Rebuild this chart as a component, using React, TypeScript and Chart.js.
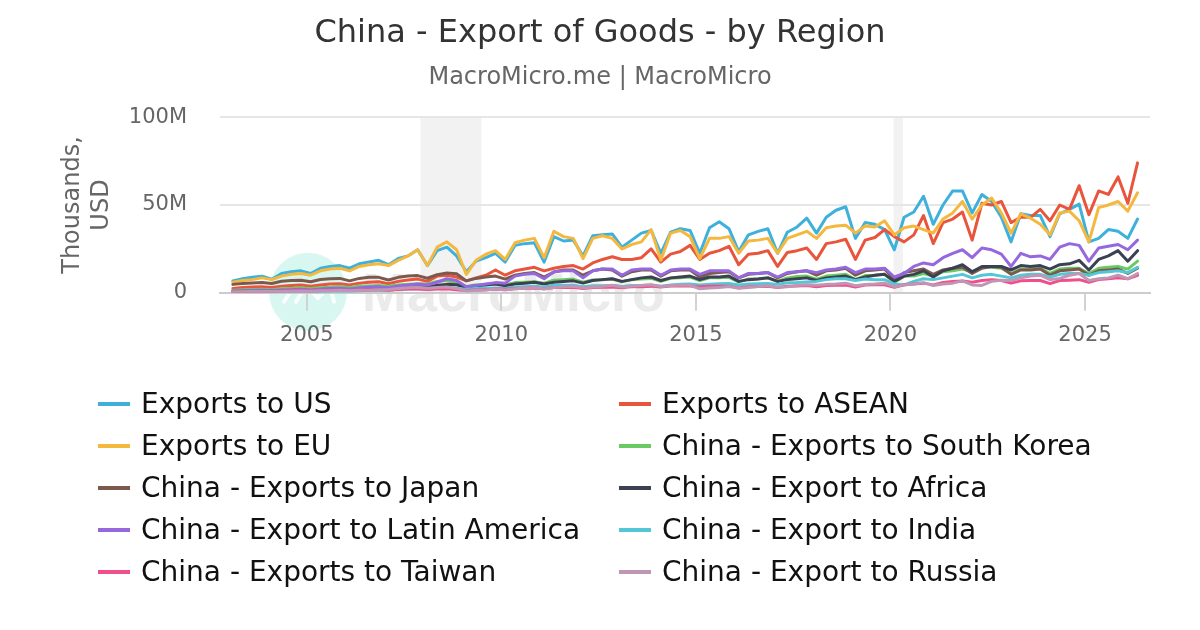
import { useEffect, useRef } from 'react';
import { Chart, registerables } from 'chart.js';

Chart.register(...registerables);

const TITLE = 'China - Export of Goods - by Region';
const SUBTITLE = 'MacroMicro.me | MacroMicro';
const Y_TITLE = ['Thousands,', 'USD'];
const X_TICKS = [2005, 2010, 2015, 2020, 2025];
const Y_TICKS = [0, 50, 100];
const RECESSIONS = [
  [2007.92, 2009.49],
  [2020.08, 2020.32],
];
const FIRST_YEAR = 2003;
const QUARTER_OFFSETS = [0.1, 0.35, 0.6, 0.85];

const SERIES_NAMES = [
  'Exports to US',
  'Exports to ASEAN',
  'Exports to EU',
  'China - Exports to South Korea',
  'China - Exports to Japan',
  'China - Export to Africa',
  'China - Export to Latin America',
  'China - Export to India',
  'China - Exports to Taiwan',
  'China - Export to Russia',
];

const SERIES_COLORS = [
  '#3eb0dc',
  '#e9553c',
  '#f5b83f',
  '#6bc963',
  '#7b5a4d',
  '#3c4053',
  '#9568de',
  '#53c7d5',
  '#f04f8b',
  '#c196b4',
];

// quarterly values (Feb, May, Aug, Nov), in millions of thousand USD
const US = [
  6.8, 8, 8.8, 9.5, // 2003
  7.7, 11, 12, 12.5, // 2004
  11, 14, 15, 15.5, // 2005
  14, 16.5, 17.5, 18.5, // 2006
  16, 19.5, 21, 24.5, // 2007
  15.5, 24, 26, 21, // 2008
  12, 18, 20, 22.5, // 2009
  17.5, 27, 28, 28.5, // 2010
  17.5, 32, 29.5, 30, // 2011
  21, 32.5, 33, 33.5, // 2012
  26, 30, 34, 35.5, // 2013
  22.5, 34.5, 36.5, 35.5, // 2014
  22.5, 37, 40.5, 36.5, // 2015
  23.5, 33, 35, 36.5, // 2016
  22.5, 34.5, 37.5, 42.5, // 2017
  34, 43, 47, 49, // 2018
  31, 40, 39, 36, // 2019
  24.5, 43, 46, 55, // 2020
  39, 50, 58, 58, // 2021
  45.5, 56, 52, 43, // 2022
  29, 45, 44, 44, // 2023
  32, 45, 47.5, 50.5, // 2024
  29, 31, 36, 35, // 2025
  31, 42, // 2026
];

const ASEAN = [
  2.5, 3, 3.3, 3.5, // 2003
  3, 3.8, 4.2, 4.5, // 2004
  3.8, 4.5, 5, 5.2, // 2005
  4.5, 5.5, 6, 6.3, // 2006
  5.2, 6.5, 7.3, 7.8, // 2007
  6.5, 9.5, 10, 9, // 2008
  6.8, 8.5, 10, 13, // 2009
  10, 12.5, 13.5, 14.5, // 2010
  12.5, 14, 15, 15.5, // 2011
  13.5, 17, 19, 20.5, // 2012
  19, 19, 20, 25, // 2013
  17.5, 22, 23.5, 27, // 2014
  19, 22.5, 24, 26.5, // 2015
  16, 22, 22.5, 24, // 2016
  15, 23, 24, 25.5, // 2017
  19, 28, 29, 30.5, // 2018
  19, 30, 31.5, 36, // 2019
  32, 29, 33, 44, // 2020
  28, 40, 42, 46, // 2021
  30, 51, 50, 52, // 2022
  40, 43, 43, 47.5, // 2023
  41, 50, 47.5, 61, // 2024
  44.5, 58, 56, 66, // 2025
  51, 74, // 2026
];

const EU = [
  6, 7, 7.5, 8.5, // 2003
  7.5, 9.5, 10.5, 11, // 2004
  10, 12.5, 13.5, 14, // 2005
  12.5, 15, 16, 16.5, // 2006
  15.5, 18.5, 21, 24.5, // 2007
  15.5, 26, 29, 24.5, // 2008
  10.5, 18.5, 22, 24, // 2009
  19, 28.5, 30, 31, // 2010
  20, 35, 32, 31, // 2011
  19.5, 31, 32.5, 31, // 2012
  25, 27.5, 29, 36, // 2013
  18.5, 34, 35.5, 32, // 2014
  19.5, 31, 31, 32, // 2015
  22.5, 29.5, 30, 31, // 2016
  22.5, 31, 33, 35, // 2017
  31, 37, 38, 38.5, // 2018
  34, 38, 37.5, 41, // 2019
  33, 37, 38, 36, // 2020
  34, 42, 45.5, 52, // 2021
  42, 50, 54, 45.5, // 2022
  34, 45, 42.5, 39, // 2023
  33, 45.5, 46.5, 41, // 2024
  29, 48.5, 50, 52, // 2025
  46.5, 57, // 2026
];

const SOUTH_KOREA = [
  1.4, 1.7, 1.9, 2, // 2003
  1.8, 2.3, 2.5, 2.7, // 2004
  2.4, 2.9, 3.1, 3.4, // 2005
  3, 3.7, 3.9, 4.1, // 2006
  3.8, 4.5, 4.9, 5.2, // 2007
  5, 6.5, 7, 5.5, // 2008
  3.6, 4.4, 4.8, 5.3, // 2009
  4.5, 5.8, 6, 6.3, // 2010
  5.5, 7.2, 7.5, 7.8, // 2011
  6, 7.3, 7.5, 7.8, // 2012
  6.2, 7.5, 7.8, 8.2, // 2013
  6.5, 8.3, 8.6, 9, // 2014
  7, 8.6, 8.5, 8.8, // 2015
  6.2, 7.8, 8, 8.6, // 2016
  6.5, 8.5, 9.3, 9.5, // 2017
  7.8, 9.5, 10, 10.5, // 2018
  7.5, 9.8, 10, 10.5, // 2019
  6, 9.5, 9.5, 11, // 2020
  9.5, 12, 12.5, 13.5, // 2021
  12, 14.5, 14.5, 14, // 2022
  11, 13.5, 13.5, 14, // 2023
  11, 13.5, 14, 14, // 2024
  11, 14, 14.5, 15, // 2025
  13.5, 18, // 2026
];

const JAPAN = [
  4.8, 5.3, 5.6, 5.8, // 2003
  5.3, 6.6, 7, 7.2, // 2004
  6.3, 7.6, 8, 8.2, // 2005
  6.8, 8.2, 8.8, 8.8, // 2006
  7.3, 8.8, 9.6, 9.8, // 2007
  8.3, 10.3, 11.3, 10.8, // 2008
  6.8, 8.2, 9, 9.5, // 2009
  7.8, 10, 11, 11.5, // 2010
  9, 11.8, 13, 13, // 2011
  10, 12.5, 13.5, 13, // 2012
  9.5, 12, 13, 13, // 2013
  9.5, 12.5, 13, 13, // 2014
  9, 11, 11.5, 12, // 2015
  8.5, 10.5, 11, 11.5, // 2016
  8.5, 11, 12, 12.5, // 2017
  10, 12.5, 13, 14, // 2018
  10, 12.5, 13, 13.5, // 2019
  7.5, 11.5, 12.5, 13.5, // 2020
  10.5, 13, 14, 14.5, // 2021
  11, 14, 15, 14.5, // 2022
  10.5, 13, 13, 13.5, // 2023
  10, 12.5, 13, 13.5, // 2024
  10, 12.5, 13, 13.5, // 2025
  11, 14, // 2026
];

const AFRICA = [
  0.7, 0.8, 0.9, 1, // 2003
  0.9, 1.1, 1.3, 1.4, // 2004
  1.3, 1.5, 1.6, 1.8, // 2005
  1.6, 2.2, 2.3, 2.5, // 2006
  2.2, 3, 3.4, 3.7, // 2007
  3, 4.3, 4.8, 4.6, // 2008
  3.2, 4, 4.5, 5, // 2009
  4, 5, 5.5, 6, // 2010
  5, 6, 6.5, 6.8, // 2011
  5.5, 7, 7.5, 8, // 2012
  6.5, 7.5, 8.5, 9, // 2013
  7, 8.5, 9, 9.5, // 2014
  7.5, 9, 9, 9.5, // 2015
  6.5, 7.5, 7.8, 8.5, // 2016
  6.5, 7.5, 8, 8.5, // 2017
  7, 8.5, 9, 9.5, // 2018
  7.5, 9, 10, 10.5, // 2019
  6.5, 9.5, 10.5, 12.5, // 2020
  9, 12.5, 14, 16, // 2021
  12, 15, 15, 15, // 2022
  13, 15.5, 15, 15.5, // 2023
  13.5, 16, 16.5, 18.5, // 2024
  13, 19, 21, 24, // 2025
  18, 24, // 2026
];

const LATIN_AMERICA = [
  1, 1.1, 1.3, 1.4, // 2003
  1.2, 1.6, 1.8, 2, // 2004
  1.6, 2.1, 2.4, 2.6, // 2005
  2.2, 2.8, 3.3, 3.5, // 2006
  2.9, 3.9, 4.5, 5, // 2007
  4.5, 6, 8, 7, // 2008
  3.5, 4.2, 5, 5.8, // 2009
  5.5, 9.5, 10.5, 11, // 2010
  8, 12, 12.5, 12.5, // 2011
  8.5, 12.5, 13.5, 13.5, // 2012
  10, 13, 13.5, 13.5, // 2013
  10, 13, 13.5, 13.5, // 2014
  10.5, 12.5, 12.5, 12.5, // 2015
  8.5, 11, 11, 11.5, // 2016
  9, 11.5, 12, 12.5, // 2017
  11.5, 13, 13.5, 14.5, // 2018
  11.5, 13.5, 13.5, 14, // 2019
  9, 11, 15, 17, // 2020
  16, 20, 22.5, 24.5, // 2021
  20, 25.5, 24.5, 22, // 2022
  15, 22.5, 20.5, 21, // 2023
  19, 26, 28, 27, // 2024
  18, 25.5, 26.5, 27.5, // 2025
  24.5, 30, // 2026
];

const INDIA = [
  0.25, 0.3, 0.35, 0.4, // 2003
  0.4, 0.5, 0.55, 0.65, // 2004
  0.6, 0.75, 0.85, 0.95, // 2005
  0.9, 1.2, 1.3, 1.5, // 2006
  1.4, 2, 2.2, 2.4, // 2007
  2.2, 2.8, 3, 2.6, // 2008
  1.9, 2.4, 2.6, 2.8, // 2009
  2.5, 3.3, 3.5, 3.7, // 2010
  3.3, 4.3, 4.3, 4.3, // 2011
  3.5, 4, 4, 4.2, // 2012
  3.6, 4.1, 4, 4.2, // 2013
  3.8, 4.5, 4.8, 5, // 2014
  4.5, 4.9, 5.1, 5.3, // 2015
  4.5, 5, 5.1, 5.3, // 2016
  4.8, 5.7, 5.8, 6.1, // 2017
  6.5, 7.5, 8, 8, // 2018
  7, 7.8, 7.5, 7.5, // 2019
  5, 4.5, 6.5, 8, // 2020
  7.5, 8.5, 9.5, 10.5, // 2021
  8.5, 10, 10.5, 9.5, // 2022
  8.5, 10, 10.5, 10.5, // 2023
  9, 10.5, 11, 11, // 2024
  10, 11.5, 12, 12.5, // 2025
  11.5, 14.5, // 2026
];

const TAIWAN = [
  0.6, 0.7, 0.8, 0.9, // 2003
  0.8, 1, 1.1, 1.2, // 2004
  1, 1.3, 1.4, 1.5, // 2005
  1.3, 1.6, 1.8, 1.8, // 2006
  1.5, 1.9, 2.1, 2.2, // 2007
  1.9, 2.2, 2.3, 1.8, // 2008
  1.3, 1.6, 1.8, 2.1, // 2009
  2, 2.5, 2.6, 2.7, // 2010
  2.3, 3, 3, 3.1, // 2011
  2.4, 3, 3.2, 3.3, // 2012
  2.9, 3.6, 3.5, 3.8, // 2013
  3.3, 3.9, 4, 3.9, // 2014
  3.4, 3.8, 3.8, 3.8, // 2015
  2.8, 3.4, 3.6, 3.7, // 2016
  3, 3.7, 3.9, 4.1, // 2017
  3.5, 4.2, 4.3, 4.4, // 2018
  3.3, 4.4, 4.6, 4.6, // 2019
  3.2, 4.6, 5, 5.5, // 2020
  4.5, 5.9, 6.4, 6.7, // 2021
  6, 7, 7.5, 7, // 2022
  5.5, 6.8, 7, 7, // 2023
  5.2, 7, 7.2, 7.5, // 2024
  6, 7.5, 8, 8.5, // 2025
  8, 10, // 2026
];

const RUSSIA = [
  0.5, 0.6, 0.7, 0.8, // 2003
  0.7, 0.8, 0.9, 1, // 2004
  0.9, 1.1, 1.2, 1.4, // 2005
  1.1, 1.4, 1.5, 1.8, // 2006
  1.9, 2.4, 2.9, 3.2, // 2007
  2.6, 3, 3.3, 2.5, // 2008
  1, 1.3, 1.6, 2.2, // 2009
  1.6, 2.3, 2.6, 3, // 2010
  2.2, 3, 3.4, 3.7, // 2011
  2.8, 3.3, 3.7, 4.3, // 2012
  3.3, 3.8, 4.2, 4.6, // 2013
  3.6, 4, 4.4, 4.3, // 2014
  2.3, 2.7, 3, 3.6, // 2015
  2.6, 3, 3.6, 4, // 2016
  3.1, 3.4, 4.1, 4.6, // 2017
  4.3, 4.8, 5, 5.5, // 2018
  4, 4.7, 5, 5.5, // 2019
  3.5, 4.5, 5, 5.8, // 2020
  4.1, 5, 5.5, 6.8, // 2021
  4.5, 4.2, 6.5, 7.2, // 2022
  7, 8.5, 9.5, 10, // 2023
  7.5, 8.2, 10, 11, // 2024
  7, 8, 8.5, 10, // 2025
  8, 11, // 2026
];

const SERIES_VALUES = [
  US,
  ASEAN,
  EU,
  SOUTH_KOREA,
  JAPAN,
  AFRICA,
  LATIN_AMERICA,
  INDIA,
  TAIWAN,
  RUSSIA,
];

const FONT = '"DejaVu Sans", Verdana, sans-serif';

const timeOf = (i: number) =>
  FIRST_YEAR + Math.floor(i / 4) + QUARTER_OFFSETS[i % 4];

const backdropPlugin = {
  id: 'backdrop',
  beforeDraw(chart: any) {
    const { ctx, chartArea, scales } = chart;
    const x = scales.x;
    ctx.save();
    ctx.fillStyle = '#f2f2f2';
    RECESSIONS.forEach(([a, b]) => {
      const x0 = x.getPixelForValue(a);
      const x1 = x.getPixelForValue(b);
      ctx.fillRect(x0, chartArea.top, x1 - x0, chartArea.bottom - chartArea.top);
    });
    // watermark
    const cx = chartArea.left + 88;
    const cy = chartArea.bottom - 1;
    ctx.beginPath();
    ctx.arc(cx, cy, 39, 0, Math.PI * 2);
    ctx.fillStyle = 'rgba(110, 228, 200, 0.28)';
    ctx.fill();
    ctx.strokeStyle = 'rgba(255,255,255,0.9)';
    ctx.lineWidth = 4;
    ctx.lineCap = 'round';
    ctx.beginPath();
    ctx.moveTo(cx - 24, cy + 10);
    ctx.lineTo(cx - 14, cy - 6);
    ctx.moveTo(cx - 12, cy + 10);
    ctx.lineTo(cx - 2, cy - 6);
    ctx.lineTo(cx + 10, cy + 6);
    ctx.lineTo(cx + 22, cy - 6);
    ctx.lineTo(cx + 26, cy + 10);
    ctx.stroke();
    ctx.font = 'bold 54px "Liberation Sans", Arial, sans-serif';
    ctx.fillStyle = 'rgba(215, 215, 215, 0.5)';
    ctx.textBaseline = 'alphabetic';
    ctx.textAlign = 'left';
    ctx.fillText('MacroMicro', chartArea.left + 142, chartArea.bottom + 18);
    ctx.restore();
  },
};

function ChartCanvas() {
  const ref = useRef<HTMLCanvasElement | null>(null);

  useEffect(() => {
    if (!ref.current) return;
    const datasets = SERIES_NAMES.map((name, k) => ({
      label: name,
      data: SERIES_VALUES[k].map((v, i) => ({ x: timeOf(i), y: v })),
      borderColor: SERIES_COLORS[k],
      backgroundColor: SERIES_COLORS[k],
      borderWidth: 3,
      pointRadius: 0,
      pointHoverRadius: 0,
      tension: 0,
      borderJoinStyle: 'round' as const,
      borderCapStyle: 'round' as const,
      fill: false,
      order: SERIES_NAMES.length - 1 - k,
    }));

    const chart = new Chart(ref.current, {
      type: 'line',
      data: { datasets },
      plugins: [backdropPlugin],
      options: {
        animation: false,
        responsive: false,
        maintainAspectRatio: false,
        events: [],
        layout: { padding: { left: 50, right: 50, top: 0, bottom: 0 } },
        plugins: {
          legend: { display: false },
          tooltip: { enabled: false },
          title: {
            display: true,
            text: TITLE,
            color: '#333333',
            font: { family: FONT, size: 32, weight: 'normal' },
            padding: { top: 14, bottom: 0 },
          },
          subtitle: {
            display: true,
            text: SUBTITLE,
            color: '#666666',
            font: { family: FONT, size: 24, weight: 'normal' },
            padding: { top: 11, bottom: 25 },
          },
        },
        scales: {
          x: {
            type: 'linear',
            min: 2002.77,
            max: 2026.67,
            afterBuildTicks: (scale: any) => {
              scale.ticks = X_TICKS.map((v) => ({ value: v }));
            },
            ticks: {
              autoSkip: false,
              maxRotation: 0,
              color: '#666666',
              font: { family: FONT, size: 21 },
              padding: 12,
              callback: (v: any) => String(v),
            },
            grid: {
              drawOnChartArea: false,
              drawTicks: true,
              tickLength: 18,
              color: '#d2d2d2',
              lineWidth: 2,
            },
            border: { display: true, color: '#cccccc', width: 2 },
          },
          y: {
            type: 'linear',
            min: 0,
            max: 100,
            afterBuildTicks: (scale: any) => {
              scale.ticks = Y_TICKS.map((v) => ({ value: v }));
            },
            afterFit: (scale: any) => {
              scale.width = 170;
            },
            ticks: {
              color: '#666666',
              font: { family: FONT, size: 21 },
              padding: 33,
              callback: (v: any) => (v === 0 ? '0' : `${v}M`),
            },
            grid: {
              drawTicks: false,
              color: (c: any) => (c.tick && c.tick.value === 0 ? '#cccccc' : '#e6e6e6'),
              lineWidth: 2,
            },
            border: { display: false },
            title: {
              display: true,
              text: Y_TITLE,
              color: '#666666',
              font: { family: FONT, size: 24, weight: 'normal' },
              padding: { top: 8.6, bottom: 0 },
            },
          },
        },
      } as any,
    });
    return () => chart.destroy();
  }, []);

  return (
    <canvas
      ref={ref}
      width={1200}
      height={360}
      style={{ width: 1200, height: 360, display: 'block' }}
    />
  );
}

function Legend() {
  return (
    <div style={{ position: 'absolute', left: 0, top: 0, width: 1200, height: 630, pointerEvents: 'none' }}>
      {SERIES_NAMES.map((name, k) => {
        const row = Math.floor(k / 2);
        const col = k % 2;
        return (
          <div
            key={name}
            style={{
              position: 'absolute',
              left: col === 0 ? 98 : 619,
              top: 403.5 - 21 + row * 42,
              height: 42,
              display: 'flex',
              alignItems: 'center',
              whiteSpace: 'nowrap',
            }}
          >
            <div style={{ width: 32, height: 4, background: SERIES_COLORS[k], marginRight: 11 }} />
            <span
              style={{
                fontFamily: FONT,
                fontSize: 28,
                lineHeight: '28px',
                color: '#111111',
              }}
            >
              {name}
            </span>
          </div>
        );
      })}
    </div>
  );
}

export default function App() {
  return (
    <div
      style={{
        position: 'absolute',
        left: 0,
        top: 0,
        width: 1200,
        height: 630,
        background: '#ffffff',
        overflow: 'hidden',
      }}
    >
      <ChartCanvas />
      <Legend />
    </div>
  );
}
